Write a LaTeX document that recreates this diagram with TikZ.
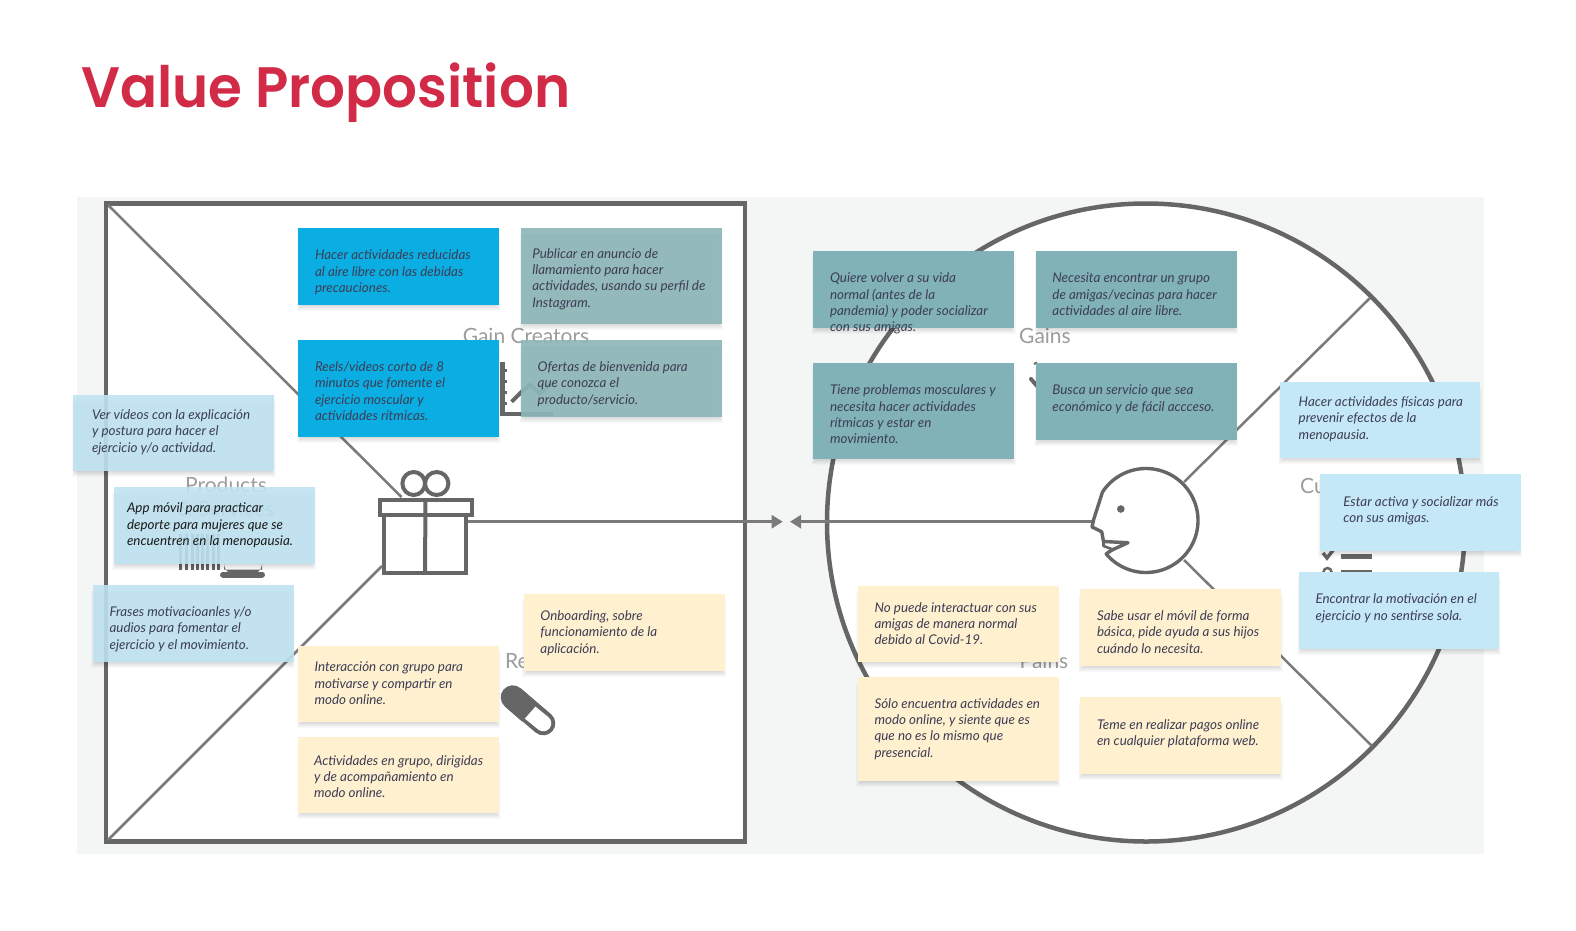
\documentclass[tikz,border=0pt]{standalone}
\usepackage{fontspec}
\usepackage{graphicx}
\setmainfont{Lato}
\newfontfamily\titlefont{Poppins SemiBold}
\usetikzlibrary{arrows.meta}
\definecolor{bgpanel}{HTML}{F4F6F5}
\definecolor{inkline}{HTML}{666666}
\definecolor{connline}{HTML}{7A7A7A}
\definecolor{faint}{HTML}{9C9C9C}
\definecolor{titlered}{HTML}{D22B47}
\definecolor{notetextc}{HTML}{3D3D55}
\definecolor{darktext}{HTML}{1A1A1A}
\definecolor{cblue}{HTML}{0BAEE2}
\definecolor{cteala}{HTML}{8EB7B8}
\definecolor{ctealb}{HTML}{80B2B7}
\definecolor{cpale}{HTML}{BFE3F1}
\definecolor{cpaleb}{HTML}{C5E8F6}
\definecolor{cyellow}{HTML}{FFF1CF}
\tikzset{
  x=1pt,y=-1pt,
  notebox/.style={rectangle,draw=none,inner sep=0pt,outer sep=0pt},
  noteblue/.style={fill=cblue},
  noteteal/.style={fill=cteala,fill opacity=.92},
  notetealb/.style={fill=ctealb},
  notepale/.style={fill=cpale,fill opacity=.9},
  notepaleb/.style={fill=cpaleb},
  noteyellow/.style={fill=cyellow},
  notetext/.style={anchor=north west,inner sep=0pt,outer sep=0pt,align=left,text=notetextc,
    font=\fontsize{13.4}{16.3}\selectfont\itshape},
  faintlabel/.style={text=faint,inner sep=0pt,align=center,font=\fontsize{21}{24}\selectfont},
  giftline/.style={draw=inkline,line width=4pt,outer sep=0pt},
  thinline/.style={draw=connline,line width=2.5pt},
  tipline/.style={draw=connline,line width=2.5pt,-{Triangle[length=11pt,width=13pt]}},
  iconfaint/.style={draw=inkline,line width=4pt},
}
\newcommand{\dk}{\color{darktext}}
\newcommand{\notecard}[9]{%
  \foreach \s in {0,1,2,3,4,5}{
    \fill[black,opacity=.022] ({#2+2.5-\s*.8},{#3+6}) rectangle ({#4-2.5+\s*.8},{#5+1+\s});
  }
  \pgfmathsetmacro{\nw}{#4-(#2)}\pgfmathsetmacro{\nh}{#5-(#3)}
  \pgfmathsetmacro{\ncx}{(#4+#2)/2}\pgfmathsetmacro{\ncy}{(#5+#3)/2}
  \pgfmathsetmacro{\nty}{#8-5.2}
  \node[notebox,#6,minimum width=\nw pt,minimum height=\nh pt] (#1) at (\ncx,\ncy) {};
  \node[notetext] (#1-text) at (#7,\nty) {\rule{0pt}{10pt}#9};
}
\begin{document}
\begin{tikzpicture}
\useasboundingbox (0,0) rectangle (1576,930);
\fill[white] (0,0) rectangle (1576,930);
\node[anchor=base west,inner sep=0pt,text=titlered,font=\fontsize{57}{60}\selectfont\titlefont] (title) at (81,107) {\scalebox{.96}[1]{Value Proposition}};
\fill[bgpanel] (77,197) rectangle (1484,854);

% canvas outlines
\node[rectangle,draw=inkline,line width=4.5pt,fill=white,minimum width=639pt,minimum height=638pt,inner sep=0pt,outer sep=0pt] (frame) at (425.7,522.5) {};
\node[circle,draw=inkline,line width=4.5pt,fill=white,minimum size=638pt,inner sep=0pt,outer sep=0pt] (customer) at (1146,522.5) {};

% free ends
\coordinate (frameTL) at (108,205);
\coordinate (frameBL) at (108,840);
\coordinate (giftTop) at (401.5,497);
\coordinate (giftLow) at (382,566);
\coordinate (circTR) at (1370,298);
\coordinate (circBR) at (1372,746);
\coordinate (headTR) at (1184,482);
\coordinate (headBR) at (1184,560);
\coordinate (tipL) at (782.7,521.7);
\coordinate (tipR) at (790,521.7);
\coordinate (giftEast) at (468,521.7);
\coordinate (noseTip) at (1092,521.7);

\draw[thinline] (frameTL) -- (giftTop);
\draw[thinline] (frameBL) -- (giftLow);
\draw[thinline] (circTR) -- (headTR);
\draw[thinline] (headBR) -- (circBR);
\draw[tipline] (giftEast) -- (tipL);
\draw[tipline] (noseTip) -- (tipR);

% gift
\node[rectangle,giftline,fill=white,minimum width=82pt,minimum height=58pt,inner sep=0pt] (gift) at (425,544) {};
\node[rectangle,giftline,fill=white,minimum width=92pt,minimum height=15pt,inner sep=0pt] (giftlid) at (425.5,507) {};
\draw[giftline] (giftlid.north) -- (gift.south);
\draw[giftline] (413.7,483.5) ellipse [x radius=11.3,y radius=11.5];
\draw[giftline] (436.7,483.5) ellipse [x radius=11.7,y radius=11.5];

% head
\draw[draw=inkline,line width=3.4pt,line join=round,fill=white]
  (1093.5,520) -- (1092,527) -- (1101.7,531.7) -- (1103.5,541.5) -- (1128,542.7) -- (1113,549.5) -- (1108,552.5)
  -- plot[domain=0:1,samples=90] ({1146+52*cos(140-287*\x)},{520.5+52*sin(140-287*\x)}) -- cycle;
\draw[draw=inkline,line width=2.6pt,line join=round] (1103.5,541.5) -- (1103.5,546) -- (1113,549.5);
\fill[inkline] (1120.8,509) circle [radius=3.8];

% faint section labels
\node[faintlabel] (gaincreators) at (526,336) {Gain Creators};
\node[faintlabel] (products) at (226,497) {Products\\\& Services};
\node[faintlabel] (painrel) at (524,661) {Pain Relievers};
\node[faintlabel] (gains) at (1045,336) {Gains};
\node[faintlabel] (pains) at (1044,661) {Pains};
\node[faintlabel,anchor=west] (jobs) at (1300,485.5) {Customer Jobs};

% faint icons
\draw[iconfaint,line width=4.5pt] (502.5,362) -- (502.5,414) -- (552.5,414);
\foreach \yy in {370,381.7,392.7,403.3}{\draw[iconfaint,line width=3pt] (502,\yy) -- (507,\yy);}
\draw[iconfaint] (511.7,401.7) -- (521.7,391.7) -- (530,385) -- (540,393.3) -- (551.7,383.3);
\foreach \xx in {180,186,192,197,202,207,213,218}{\draw[inkline,line width=3pt] (\xx,534) -- (\xx,569.5);}
\fill[inkline] (224,569.5) -- (224,564) arc[start angle=180,end angle=0,x radius=19,y radius=13] -- (262,569.5) -- cycle;
\draw[inkline,line width=6pt,line cap=round] (223,574.5) -- (262,574.5);
\draw[inkline,line width=4pt,line cap=round] (1031,379) -- (1037,386);
\draw[inkline,line width=2pt] (1034,364) -- (1037,362.5);
\draw[inkline,line width=3.5pt] (1323,553) -- (1327,558) -- (1334,549);
\draw[inkline,line width=4.5pt] (1340.7,556.5) -- (1371.7,556.5);
\draw[inkline,line width=2.5pt] (1340.7,571) -- (1371.7,571);
\draw[inkline,line width=2.5pt] (1327.5,572) circle [radius=4];

% pill
\coordinate (pillA) at (512.7,697.3);
\coordinate (pillB) at (543.3,723.3);
\coordinate (pillM) at (530,712.5);
\draw[inkline,line width=24pt,line cap=round] (pillA) -- (pillB);
\draw[white,line width=16pt,line cap=round] (pillM) -- (pillB);
\draw[inkline,line width=24pt] (pillA) -- (pillM);

% notes
\notecard{n1}{298.4}{228}{498.8}{305}{noteblue}{315}{255}{Hacer actividades reducidas\\al aire libre con las debidas\\precauciones.}
\notecard{n2}{521}{228}{721.6}{324}{noteteal}{532.3}{253.3}{Publicar en anuncio de\\llamamiento para hacer\\actividades, usando su perfil de\\Instagram.}
\notecard{n3}{298.4}{340}{498.8}{436.7}{noteblue}{315}{366.7}{Reels/videos corto de 8\\minutos que fomente el\\ejercicio moscular y\\actividades rítmicas.}
\notecard{n4}{521}{340}{721.6}{416.7}{noteteal}{537.7}{366.7}{Ofertas de bienvenida para\\que conozca el\\producto/servicio.}
\notecard{n5}{73.4}{394.7}{274.3}{471}{notepale}{92}{414.7}{Ver vídeos con la explicación\\y postura para hacer el\\ejercicio y/o actividad.}
\notecard{n6}{113.6}{487}{314.5}{563.7}{notepale}{127}{508}{\dk App móvil para practicar\\\dk deporte para mujeres que se\\\dk encuentren en la menopausia.}
\notecard{n7}{92.6}{585}{293.5}{661.7}{notepale}{109.6}{611.7}{Frases motivacioanles y/o\\audios para fomentar el\\ejercicio y el movimiento.}
\notecard{n8}{523.8}{594.3}{724.7}{671}{noteyellow}{540.4}{615.7}{Onboarding, sobre\\funcionamiento de la\\aplicación.}
\notecard{n9}{298.4}{645.7}{498.8}{722.3}{noteyellow}{314.5}{667}{Interacción con grupo para\\motivarse y compartir en\\modo online.}
\notecard{n10}{298.4}{736.7}{498.8}{813.3}{noteyellow}{314}{760.3}{Actividades en grupo, dirigidas\\y de acompañamiento en\\modo online.}
\notecard{r1}{813}{251}{1014}{327.7}{notetealb}{830}{278}{Quiere volver a su vida\\normal (antes de la\\pandemia) y poder socializar\\con sus amigas.}
\notecard{r2}{1036}{251}{1236.6}{327.7}{notetealb}{1052.4}{278}{Necesita encontrar un grupo\\de amigas/vecinas para hacer\\actividades al aire libre.}
\notecard{r3}{813}{363}{1014}{459.3}{notetealb}{830}{390}{Tiene problemas mosculares y\\necesita hacer actividades\\rítmicas y estar en\\movimiento.}
\notecard{r4}{1036}{363}{1236.6}{439.7}{notetealb}{1052.4}{390}{Busca un servicio que sea\\económico y de fácil accceso.}
\notecard{r5}{1280}{381.7}{1480.4}{458.3}{notepaleb}{1298.7}{401.7}{Hacer actividades físicas para\\prevenir efectos de la\\menopausia.}
\notecard{r6}{1319.5}{474.3}{1520.7}{551}{notepaleb}{1343.3}{501.7}{Estar activa y socializar más\\con sus amigas.}
\notecard{r7}{1299}{572}{1499.3}{648.7}{notepaleb}{1315.6}{599}{Encontrar la motivación en el\\ejercicio y no sentirse sola.}
\notecard{r8}{857.6}{585.7}{1058.7}{662.3}{noteyellow}{874.5}{607.3}{No puede interactuar con sus\\amigas de manera normal\\debido al Covid-19.}
\notecard{r9}{1080}{589}{1281}{665.7}{noteyellow}{1097}{615.7}{Sabe usar el móvil de forma\\básica, pide ayuda a sus hijos\\cuándo lo necesita.}
\notecard{r10}{857.6}{676.7}{1058.7}{781}{noteyellow}{874.5}{703.3}{Sólo encuentra actividades en\\modo online, y siente que es\\que no es lo mismo que\\presencial.}
\notecard{r11}{1080}{697.3}{1281}{774}{noteyellow}{1097}{724.3}{Teme en realizar pagos online\\en cualquier plataforma web.}
\end{tikzpicture}
\end{document}
